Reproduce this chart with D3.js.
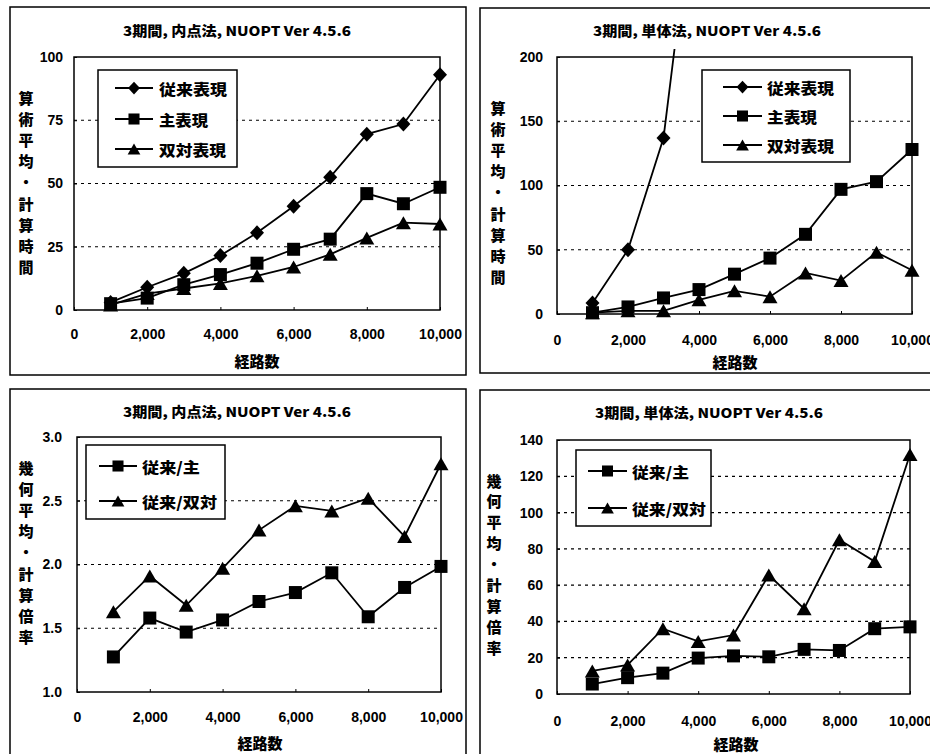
<!DOCTYPE html>
<html>
<head>
<meta charset="utf-8">
<script src="https://cdn.jsdelivr.net/npm/d3@7"></script>
<style>
  html, body { margin: 0; padding: 0; background: #fff; }
  svg { display: block; }
  .num { font-family: "Liberation Sans", Arial, sans-serif; font-weight: bold; font-size: 14px; fill: #000; }
  .jp { font-family: "Noto Sans CJK JP", sans-serif; font-weight: 900; fill: #000; }
</style>
</head>
<body>
<svg id="chart" width="930" height="754"></svg>
<script>
// ---- data -------------------------------------------------------------
const routeCounts = [1000, 2000, 3000, 4000, 5000, 6000, 7000, 8000, 9000, 10000];
const xTickValues = [0, 2000, 4000, 6000, 8000, 10000];

// arithmetic mean of computation time, interior point method
const ipConventional = [3, 9, 14.5, 21.5, 30.5, 41, 52.5, 69.5, 73.5, 93];
const ipPrimal       = [2.5, 4.7, 10, 14, 18.5, 24, 28, 46, 42, 48.5];
const ipDual         = [2, 6.5, 8.5, 10.5, 13.5, 17, 22, 28.5, 34.5, 34];

// arithmetic mean of computation time, simplex method
// (conventional form runs far beyond the 200 axis limit after 3,000 routes)
const spConventional = [8.5, 50, 137, 360];
const spPrimal       = [1, 5.5, 12.5, 19, 31, 43.5, 62, 97, 103, 128];
const spDual         = [1, 2.5, 2.5, 11, 18, 13.5, 32, 26, 48, 34];

// geometric mean of speed-up ratio, interior point method
const ipRatioPrimal = [1.275, 1.58, 1.47, 1.565, 1.71, 1.78, 1.935, 1.59, 1.82, 1.985];
const ipRatioDual   = [1.63, 1.91, 1.68, 1.97, 2.27, 2.46, 2.42, 2.52, 2.22, 2.79];

// geometric mean of speed-up ratio, simplex method
const spRatioPrimal = [5.5, 9, 11.5, 19.8, 21, 20.5, 24.6, 24, 36, 37];
const spRatioDual   = [12.7, 16, 36, 29, 32.5, 65.6, 47, 85, 73, 132];

const ticksTime1  = [0, 25, 50, 75, 100];
const ticksTime2  = [0, 50, 100, 150, 200];
const ticksRatio1 = [1.0, 1.5, 2.0, 2.5, 3.0];
const ticksRatio2 = [0, 20, 40, 60, 80, 100, 120, 140];

const titleIP = "3期間, 内点法, NUOPT Ver 4.5.6";
const titleSP = "3期間, 単体法, NUOPT Ver 4.5.6";
const xTitle = "経路数";
const yTitleTime = "算術平均・計算時間";
const yTitleRatio = "幾何平均・計算倍率";

const seriesNamesTime = ["従来表現", "主表現", "双対表現"];
const seriesNamesRatio = ["従来/主", "従来/双対"];

// ---- drawing helpers --------------------------------------------------
const svg = d3.select("#chart");
const fmtThousands = d3.format(",");

function markerPath(shape, s) {
  s = s || 1;
  if (shape === "diamond") {
    const w = 7 * s, h = 7.5 * s;
    return `M0,${-h}L${w},0L0,${h}L${-w},0Z`;
  }
  if (shape === "square") {
    const a = 6.5 * s;
    return `M${-a},${-a}H${a}V${a}H${-a}Z`;
  }
  // triangle
  const w = 7.5 * s, h = 6.5 * s;
  return `M0,${-h}L${w},${h}L${-w},${h}Z`;
}

function drawPanel(p) {
  const g = svg.append("g");

  // outer frame
  g.append("rect")
    .attr("x", p.frame[0]).attr("y", p.frame[1])
    .attr("width", p.frame[2] - p.frame[0]).attr("height", p.frame[3] - p.frame[1])
    .attr("fill", "none").attr("stroke", "#000").attr("stroke-width", 1.5);

  const x = d3.scaleLinear().domain([0, 10000]).range([p.plot[0], p.plot[2]]);
  const y = d3.scaleLinear().domain([p.yTicks[0], p.yTicks[p.yTicks.length - 1]])
    .range([p.plot[3], p.plot[1]]);

  // dashed gridlines
  g.append("g").selectAll("line")
    .data(p.yTicks.slice(1, -1))
    .join("line")
    .attr("x1", p.plot[0]).attr("x2", p.plot[2])
    .attr("y1", d => y(d)).attr("y2", d => y(d))
    .attr("stroke", "#000").attr("stroke-width", 1.2)
    .attr("stroke-dasharray", "3,4");

  // plot area border
  g.append("rect")
    .attr("x", p.plot[0]).attr("y", p.plot[1])
    .attr("width", p.plot[2] - p.plot[0]).attr("height", p.plot[3] - p.plot[1])
    .attr("fill", "none").attr("stroke", "#000").attr("stroke-width", 1.5);

  // axes
  const xAxis = d3.axisBottom(x).tickValues(xTickValues)
    .tickSize(-3).tickPadding(p.xPad)
    .tickFormat(d => fmtThousands(d));
  const gx = g.append("g").attr("transform", `translate(0,${p.plot[3]})`).call(xAxis);
  gx.select(".domain").remove();
  gx.selectAll("line").attr("stroke", "#000");
  gx.selectAll("text").attr("class", "num").attr("font-family", null).attr("font-size", null);

  const yAxis = d3.axisLeft(y).tickValues(p.yTicks)
    .tickSize(-3).tickPadding(p.yPad)
    .tickFormat(p.yFormat);
  const gy = g.append("g").attr("transform", `translate(${p.plot[0]},0)`).call(yAxis);
  gy.select(".domain").remove();
  gy.selectAll("line").attr("stroke", "#000");
  gy.selectAll("text").attr("class", "num").attr("font-family", null).attr("font-size", null);

  // title
  g.append("text").attr("class", "jp")
    .attr("x", p.title[0]).attr("y", p.title[1])
    .attr("text-anchor", "middle").attr("dominant-baseline", "central")
    .attr("font-size", 13.5)
    .attr("textLength", 228).attr("lengthAdjust", "spacingAndGlyphs")
    .text(p.titleText);

  // x axis title
  g.append("text").attr("class", "jp")
    .attr("x", p.xTitle[0]).attr("y", p.xTitle[1])
    .attr("text-anchor", "middle").attr("dominant-baseline", "central")
    .attr("font-size", 15)
    .text(xTitle);

  // vertical y axis title, one character per row
  g.append("g").selectAll("text")
    .data(Array.from(p.yTitleText))
    .join("text").attr("class", "jp")
    .attr("x", p.yTitle[0])
    .attr("y", (d, i) => p.yTitle[1] + i * p.yTitle[2])
    .attr("text-anchor", "middle").attr("dominant-baseline", "central")
    .attr("font-size", 15)
    .text(d => d);

  // series
  const clipId = "clip" + p.id;
  svg.append("defs").append("clipPath").attr("id", clipId)
    .append("rect")
    .attr("x", p.plot[0] - 10).attr("y", p.plot[1] - 8)
    .attr("width", p.plot[2] - p.plot[0] + 20).attr("height", p.plot[3] - p.plot[1] + 18);

  const yMax = y.domain()[1];
  const line = d3.line().x(d => x(d[0])).y(d => y(d[1]));
  const sg = g.append("g").attr("clip-path", `url(#${clipId})`);
  p.series.forEach(s => {
    const pts = s.values.map((v, i) => [routeCounts[i], v]);
    sg.append("path").attr("d", line(pts))
      .attr("fill", "none").attr("stroke", "#000").attr("stroke-width", 1.8);
  });
  p.series.forEach(s => {
    const pts = s.values.map((v, i) => [routeCounts[i], v]).filter(d => d[1] <= yMax);
    sg.append("g").selectAll("path")
      .data(pts)
      .join("path")
      .attr("transform", d => `translate(${x(d[0])},${y(d[1])})`)
      .attr("d", markerPath(s.shape))
      .attr("fill", "#000");
  });

  // legend
  const L = p.legend;
  g.append("rect")
    .attr("x", L.box[0]).attr("y", L.box[1])
    .attr("width", L.box[2] - L.box[0]).attr("height", L.box[3] - L.box[1])
    .attr("fill", "#fff").attr("stroke", "#000").attr("stroke-width", 1.5);
  p.series.forEach((s, i) => {
    const ly = L.rows[i];
    g.append("line")
      .attr("x1", L.line[0]).attr("x2", L.line[1])
      .attr("y1", ly).attr("y2", ly)
      .attr("stroke", "#000").attr("stroke-width", 1.8);
    g.append("path")
      .attr("transform", `translate(${(L.line[0] + L.line[1]) / 2},${ly})`)
      .attr("d", markerPath(s.shape, 0.85))
      .attr("fill", "#000");
    g.append("text").attr("class", "jp")
      .attr("x", L.textX).attr("y", ly)
      .attr("dominant-baseline", "central")
      .attr("font-size", 15)
      .attr("textLength", L.widths[i]).attr("lengthAdjust", "spacingAndGlyphs")
      .text(s.name);
  });
}

// ---- panels -----------------------------------------------------------
drawPanel({
  id: "a", frame: [10, 7, 466, 375], plot: [74, 57, 440, 310],
  yTicks: ticksTime1, yFormat: d3.format("d"), xPad: 19, yPad: 11,
  titleText: titleIP, title: [237, 30], xTitle: [257, 360],
  yTitleText: yTitleTime, yTitle: [26, 97, 21.2],
  series: [
    { name: seriesNamesTime[0], values: ipConventional, shape: "diamond" },
    { name: seriesNamesTime[1], values: ipPrimal, shape: "square" },
    { name: seriesNamesTime[2], values: ipDual, shape: "triangle" }
  ],
  legend: { box: [98, 70, 237, 167], rows: [88, 119, 149], line: [115, 153], textX: 159, widths: [68, 49, 67] }
});

drawPanel({
  id: "b", frame: [480, 8, 940, 373], plot: [557, 57, 912, 314],
  yTicks: ticksTime2, yFormat: d3.format("d"), xPad: 21, yPad: 14,
  titleText: titleSP, title: [707, 30], xTitle: [735, 361],
  yTitleText: yTitleTime, yTitle: [498, 107, 21.2],
  series: [
    { name: seriesNamesTime[0], values: spConventional, shape: "diamond" },
    { name: seriesNamesTime[1], values: spPrimal, shape: "square" },
    { name: seriesNamesTime[2], values: spDual, shape: "triangle" }
  ],
  legend: { box: [702, 70, 850, 162], rows: [87, 116, 145], line: [723, 762], textX: 767, widths: [67, 50, 67] }
});

drawPanel({
  id: "c", frame: [10, 389, 466, 760], plot: [77, 437, 441, 692],
  yTicks: ticksRatio1, yFormat: d3.format(".1f"), xPad: 20, yPad: 15,
  titleText: titleIP, title: [237, 411], xTitle: [260, 742],
  yTitleText: yTitleRatio, yTitle: [26, 467, 21.2],
  series: [
    { name: seriesNamesRatio[0], values: ipRatioPrimal, shape: "square" },
    { name: seriesNamesRatio[1], values: ipRatioDual, shape: "triangle" }
  ],
  legend: { box: [86, 445, 225, 519], rows: [466, 501], line: [99, 137], textX: 142, widths: [58, 75] }
});

drawPanel({
  id: "d", frame: [480, 390, 940, 760], plot: [557, 440, 910, 694],
  yTicks: ticksRatio2, yFormat: d3.format("d"), xPad: 22, yPad: 14,
  titleText: titleSP, title: [709, 412], xTitle: [736, 743],
  yTitleText: yTitleRatio, yTitle: [494, 480, 20.9],
  series: [
    { name: seriesNamesRatio[0], values: spRatioPrimal, shape: "square" },
    { name: seriesNamesRatio[1], values: spRatioDual, shape: "triangle" }
  ],
  legend: { box: [576, 450, 711, 526], rows: [471, 508], line: [588, 627], textX: 632, widths: [57, 74] }
});
</script>
</body>
</html>
